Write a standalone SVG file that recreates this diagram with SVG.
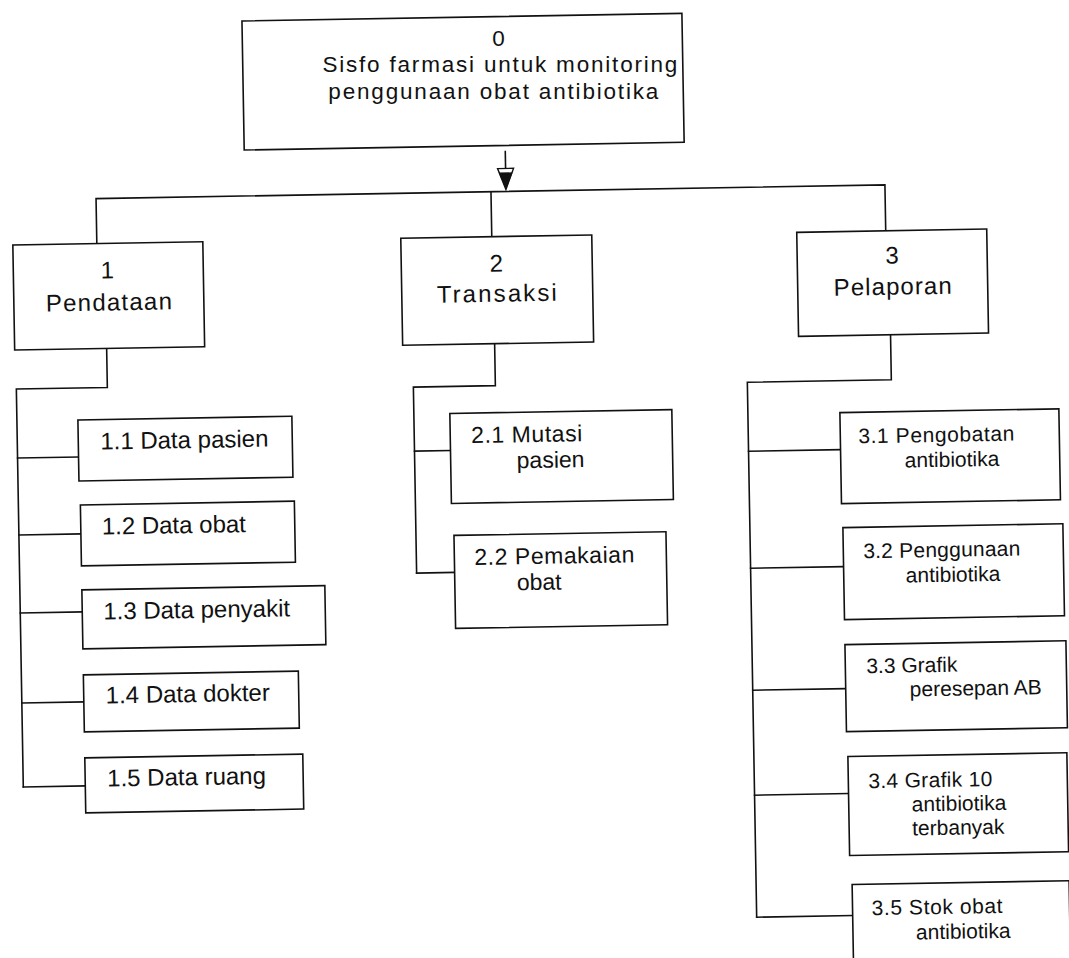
<svg xmlns="http://www.w3.org/2000/svg" width="1069" height="958" viewBox="0 0 1069 958">
  <style>
    .box { fill: #ffffff; stroke: #111111; stroke-width: 1.6; }
    .wire { fill: none; stroke: #111111; stroke-width: 1.6; stroke-linecap: square; }
    .lbl { font-family: "Liberation Sans", Arial, sans-serif; fill: #111111; }
    .main { font-size: 24px; text-anchor: middle; }
    .root { font-size: 22.5px; text-anchor: middle; }
    .leaf { font-size: 24px; }
    .trx { font-size: 23px; }
    .rep { font-size: 21px; }
  </style>
  <rect x="0" y="0" width="1069" height="958" fill="#ffffff"/>
  <!-- the page is scanned slightly tilted -->
  <g transform="rotate(-1 534 479)">
    <g id="connectors">
      <!-- arrow under the root process -->
      <line class="wire" x1="511" y1="151" x2="511" y2="170"/>
      <polygon points="503,168 519,168 511,189" fill="#ffffff" stroke="#111111" stroke-width="1.4"/>
      <polygon points="504,172 518,172 511,189" fill="#111111"/>
      <!-- level 1 bus -->
      <polyline class="wire" points="101,236 101,191 890,191 890,237"/>
      <line class="wire" x1="496" y1="191" x2="496" y2="236"/>
      <!-- Pendataan children -->
      <polyline class="wire" points="109,341 109,380 18,380 18,778"/>
      <line class="wire" x1="18" y1="449" x2="79" y2="449"/>
      <line class="wire" x1="18" y1="526" x2="80" y2="526"/>
      <line class="wire" x1="18" y1="604" x2="80" y2="604"/>
      <line class="wire" x1="18" y1="694" x2="80" y2="694"/>
      <line class="wire" x1="18" y1="778" x2="80" y2="778"/>
      <!-- Transaksi children -->
      <polyline class="wire" points="497,343 497,385 415,385 415,571"/>
      <line class="wire" x1="415" y1="449" x2="451" y2="449"/>
      <line class="wire" x1="415" y1="571" x2="453" y2="571"/>
      <!-- Pelaporan children -->
      <polyline class="wire" points="893,341 893,386 749,386 749,921"/>
      <line class="wire" x1="749" y1="455" x2="841" y2="455"/>
      <line class="wire" x1="749" y1="572" x2="842" y2="572"/>
      <line class="wire" x1="749" y1="694" x2="842" y2="694"/>
      <line class="wire" x1="749" y1="799" x2="843" y2="799"/>
      <line class="wire" x1="749" y1="921" x2="845" y2="921"/>
    </g>

    <g id="n0">
      <rect class="box" x="250" y="16" width="440" height="129"/>
      <!-- root lines kept level so the long lines do not crowd each other -->
      <text class="lbl root" x="506" y="45" transform="rotate(1 506 45)">0</text>
      <text class="lbl root" x="507" y="71" textLength="355" transform="rotate(1 507 71)">Sisfo farmasi untuk monitoring</text>
      <text class="lbl root" x="500" y="98" textLength="330" transform="rotate(1 500 98)">penggunaan obat antibiotika</text>
    </g>

    <g id="n1">
      <rect class="box" x="17" y="236" width="190" height="105"/>
      <text class="lbl main" x="111" y="271">1</text>
      <text class="lbl main" x="112" y="303" textLength="126">Pendataan</text>
    </g>
    <g id="n2">
      <rect class="box" x="405" y="236" width="191" height="107"/>
      <text class="lbl main" x="500" y="271">2</text>
      <text class="lbl main" x="500" y="301" textLength="120">Transaksi</text>
    </g>
    <g id="n3">
      <rect class="box" x="801" y="237" width="190" height="104"/>
      <text class="lbl main" x="896" y="270">3</text>
      <text class="lbl main" x="896" y="301" textLength="118">Pelaporan</text>
    </g>

    <g id="n1_1">
      <rect class="box" x="79" y="412" width="214" height="61"/>
      <text class="lbl leaf" x="101" y="442">1.1 Data pasien</text>
    </g>
    <g id="n1_2">
      <rect class="box" x="80" y="497" width="214" height="61"/>
      <text class="lbl leaf" x="101" y="527">1.2 Data obat</text>
    </g>
    <g id="n1_3">
      <rect class="box" x="80" y="582" width="243" height="59"/>
      <text class="lbl leaf" x="101" y="612">1.3 Data penyakit</text>
    </g>
    <g id="n1_4">
      <rect class="box" x="80" y="667" width="215" height="57"/>
      <text class="lbl leaf" x="102" y="696">1.4 Data dokter</text>
    </g>
    <g id="n1_5">
      <rect class="box" x="80" y="750" width="218" height="55"/>
      <text class="lbl leaf" x="102" y="779">1.5 Data ruang</text>
    </g>

    <g id="n2_1">
      <rect class="box" x="451" y="412" width="222" height="90"/>
      <text class="lbl trx" x="472" y="442" textLength="111">2.1 Mutasi</text>
      <text class="lbl trx" x="517" y="468">pasien</text>
    </g>
    <g id="n2_2">
      <rect class="box" x="453" y="534" width="212" height="93"/>
      <text class="lbl trx" x="473" y="564" textLength="160">2.2 Pemakaian</text>
      <text class="lbl trx" x="515" y="590">obat</text>
    </g>

    <g id="n3_1">
      <rect class="box" x="841" y="418" width="219" height="91"/>
      <text class="lbl rep" x="859" y="449" textLength="156">3.1 Pengobatan</text>
      <text class="lbl rep" x="905" y="474">antibiotika</text>
    </g>
    <g id="n3_2">
      <rect class="box" x="842" y="533" width="220" height="92"/>
      <text class="lbl rep" x="862" y="564" textLength="157">3.2 Penggunaan</text>
      <text class="lbl rep" x="904" y="589">antibiotika</text>
    </g>
    <g id="n3_3">
      <rect class="box" x="842" y="650" width="221" height="87"/>
      <text class="lbl rep" x="863" y="679">3.3 Grafik</text>
      <text class="lbl rep" x="906" y="703">peresepan AB</text>
    </g>
    <g id="n3_4">
      <rect class="box" x="843" y="762" width="219" height="99"/>
      <text class="lbl rep" x="863" y="794" textLength="124">3.4 Grafik 10</text>
      <text class="lbl rep" x="906" y="818">antibiotika</text>
      <text class="lbl rep" x="906" y="842">terbanyak</text>
    </g>
    <g id="n3_5">
      <rect class="box" x="845" y="890" width="217" height="110"/>
      <text class="lbl rep" x="864" y="921" textLength="131">3.5 Stok obat</text>
      <text class="lbl rep" x="908" y="946">antibiotika</text>
    </g>
  </g>
</svg>
